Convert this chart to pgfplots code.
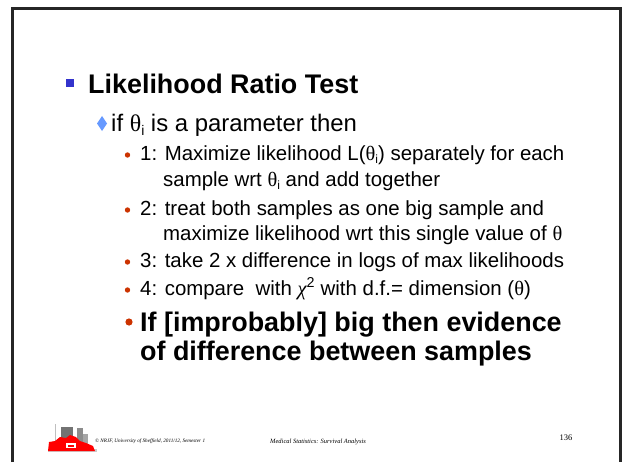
\documentclass[border=0pt]{standalone}
\usepackage{pgfplots}
\pgfplotsset{compat=1.18}
\usepackage{fontspec}
\setmainfont{Liberation Sans}
\newfontfamily\serif{Liberation Serif}
\definecolor{sqblue}{HTML}{3333CC}
\definecolor{diablue}{HTML}{6699FF}
\definecolor{dotred}{HTML}{CC3300}
\newcommand{\fs}[1]{\fontsize{#1}{#1}\selectfont}
\newcommand{\thet}{{\serif θ}}
\begin{document}
\begin{tikzpicture}
\begin{axis}[
  scale only axis, width=622bp, height=462bp,
  xmin=0, xmax=622, ymin=0, ymax=462, y dir=reverse,
  axis lines=none, clip=false]
\addplot[draw=none] coordinates {(0,0) (622,462)};
% background
\fill[white] (axis cs:0,0) rectangle (axis cs:622,462);
% border
\draw[black!85, line width=2.6bp] (axis cs:12.5,462) -- (axis cs:12.5,8.7) -- (axis cs:620.5,8.7) -- (axis cs:620.5,462);
% title
\fill[sqblue] (axis cs:66,79) rectangle (axis cs:74,87);
\node[anchor=base west, inner sep=0] at (axis cs:88,94) {\fs{27}\bfseries Likelihood Ratio Test};
% level 2
\fill[diablue] (axis cs:102,116) -- (axis cs:107,123.5) -- (axis cs:102,131) -- (axis cs:97,123.5) -- cycle;
\node[anchor=base west, inner sep=0] at (axis cs:111,131) {\fs{24}if \thet\raisebox{-0.35ex}{\fs{14}i} is a parameter then};
% level 3
\fill[dotred] (axis cs:127.5,155) circle[radius=2.7bp];
\fill[dotred] (axis cs:127.5,210) circle[radius=2.7bp];
\fill[dotred] (axis cs:127.5,262) circle[radius=2.7bp];
\fill[dotred] (axis cs:127.5,290) circle[radius=2.7bp];
\node[anchor=base west, inner sep=0] at (axis cs:140,160) {\fs{20.5}1: Maximize likelihood L(\thet\raisebox{-0.35ex}{\fs{12}i}) separately for each};
\node[anchor=base west, inner sep=0] at (axis cs:163,186) {\fs{20.5}sample wrt \thet\raisebox{-0.35ex}{\fs{12}i} and add together};
\node[anchor=base west, inner sep=0] at (axis cs:140,215) {\fs{20.5}2: treat both samples as one big sample and};
\node[anchor=base west, inner sep=0] at (axis cs:163,240) {\fs{20.5}maximize likelihood wrt this single value of \thet};
\node[anchor=base west, inner sep=0] at (axis cs:140,267) {\fs{20.5}3: take 2 x difference in logs of max likelihoods};
\node[anchor=base west, inner sep=0] at (axis cs:140,295) {\fs{20.5}4: compare\ \ with {\serif\itshape χ}\textsuperscript{2} with d.f.= dimension (\thet)};
% bold bullet
\fill[dotred] (axis cs:129,322) circle[radius=3.6bp];
\node[anchor=base west, inner sep=0] at (axis cs:140,331) {\fs{27}\bfseries If [improbably] big then evidence};
\node[anchor=base west, inner sep=0] at (axis cs:140,360) {\fs{27}\bfseries of difference between samples};
% logo
\fill[black!25] (axis cs:54.5,424) rectangle (axis cs:56,443);
\fill[black!55] (axis cs:61,427) rectangle (axis cs:73,445);
\fill[black!45] (axis cs:77,428) rectangle (axis cs:83,446);
\fill[black!35] (axis cs:83,434) rectangle (axis cs:88,446);
\fill[black!20] (axis cs:48,449) rectangle (axis cs:97,452);
\fill[red] (axis cs:48,451) -- (axis cs:49,442) -- (axis cs:55,441) -- (axis cs:60,437) -- (axis cs:66,438) -- (axis cs:70,435) -- (axis cs:76,437) -- (axis cs:80,441) -- (axis cs:86,443) -- (axis cs:93,446) -- (axis cs:95,451) -- cycle;
\fill[white] (axis cs:66,443) rectangle (axis cs:76,448);
\fill[red] (axis cs:68,444.5) rectangle (axis cs:74,446.5);
% footer
\node[anchor=base west, inner sep=0] at (axis cs:95,442) {\serif\itshape\fs{5.2}© NRJF, University of Sheffield, 2011/12, Semester 1};
\node[anchor=base west, inner sep=0] at (axis cs:270,443) {\serif\itshape\fs{6.5}Medical Statistics: Survival Analysis};
\node[anchor=base west, inner sep=0] at (axis cs:559.5,440) {\serif\fs{8.5}136};
\end{axis}
\end{tikzpicture}
\end{document}
